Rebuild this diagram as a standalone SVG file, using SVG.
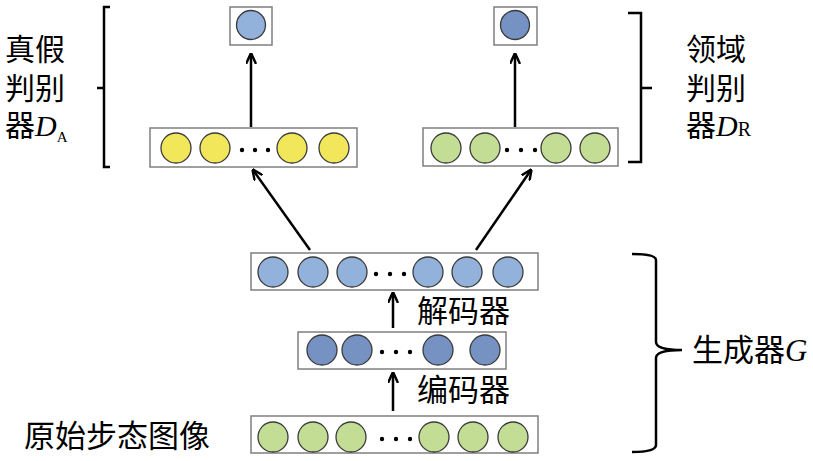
<svg xmlns="http://www.w3.org/2000/svg" width="813" height="461" viewBox="0 0 813 461">
<defs>
<marker id="ah" viewBox="0 0 10 10" refX="9" refY="5" markerWidth="11" markerHeight="11" markerUnits="userSpaceOnUse" orient="auto">
<path d="M0,0.5 L10,5 L0,9.5" fill="none" stroke="#000" stroke-width="2.2"/>
</marker>
</defs>
<style>
.box{fill:#fff;stroke:#7f7f7f;stroke-width:1.5}
.c{stroke:#3a3a3a;stroke-width:1.3}
.y{fill:#F2E65A}.g{fill:#C3DD94}.lb{fill:#92B2DC}.db{fill:#7692C2}
.dot{fill:#000}
.t{font-family:"Liberation Serif","Noto Sans CJK SC",serif;font-size:30px;fill:#000}
.it{font-style:italic}
.br{fill:none;stroke:#000;stroke-width:2.5}
.ar{stroke:#000;stroke-width:2.5;fill:none;marker-end:url(#ah)}
</style>
<rect width="813" height="461" fill="#fff"/>

<g id="outA">
<rect class="box" x="230" y="7" width="42" height="38"/>
<circle class="c lb" cx="251" cy="25" r="14.5"/>
</g>
<g id="outR">
<rect class="box" x="494" y="7" width="43" height="38"/>
<circle class="c db" cx="515" cy="25" r="14.5"/>
</g>

<g id="dA">
<rect class="box" x="150" y="128" width="207" height="39"/>
<circle class="c y" cx="176" cy="148" r="15"/>
<circle class="c y" cx="215" cy="148" r="15"/>
<circle class="dot" cx="242" cy="150" r="2.2"/>
<circle class="dot" cx="255" cy="150" r="2.2"/>
<circle class="dot" cx="268" cy="150" r="2.2"/>
<circle class="c y" cx="292" cy="148" r="15"/>
<circle class="c y" cx="334" cy="148" r="15"/>
</g>

<g id="dR">
<rect class="box" x="423" y="128" width="195" height="38"/>
<circle class="c g" cx="446" cy="148" r="15"/>
<circle class="c g" cx="485" cy="148" r="15"/>
<circle class="dot" cx="507" cy="150" r="2.2"/>
<circle class="dot" cx="521" cy="150" r="2.2"/>
<circle class="dot" cx="535" cy="150" r="2.2"/>
<circle class="c g" cx="556" cy="148" r="15"/>
<circle class="c g" cx="595" cy="148" r="15"/>
</g>

<g id="dec">
<rect class="box" x="251" y="253" width="287" height="37"/>
<circle class="c lb" cx="273" cy="272" r="15"/>
<circle class="c lb" cx="313" cy="272" r="15"/>
<circle class="c lb" cx="352" cy="272" r="15"/>
<circle class="dot" cx="376" cy="274" r="2.2"/>
<circle class="dot" cx="390" cy="274" r="2.2"/>
<circle class="dot" cx="404" cy="274" r="2.2"/>
<circle class="c lb" cx="428" cy="272" r="15"/>
<circle class="c lb" cx="467" cy="272" r="15"/>
<circle class="c lb" cx="508" cy="272" r="15"/>
</g>

<g id="enc">
<rect class="box" x="298" y="332" width="208" height="37"/>
<circle class="c db" cx="322" cy="350" r="15"/>
<circle class="c db" cx="357" cy="350" r="15"/>
<circle class="dot" cx="382" cy="352" r="2.2"/>
<circle class="dot" cx="396" cy="352" r="2.2"/>
<circle class="dot" cx="410" cy="352" r="2.2"/>
<circle class="c db" cx="438" cy="350" r="15"/>
<circle class="c db" cx="485" cy="350" r="15"/>
</g>

<g id="input">
<rect class="box" x="251" y="416" width="287" height="37"/>
<circle class="c g" cx="273" cy="437" r="15"/>
<circle class="c g" cx="313" cy="437" r="15"/>
<circle class="c g" cx="351" cy="437" r="15"/>
<circle class="dot" cx="382" cy="439" r="2.2"/>
<circle class="dot" cx="396" cy="439" r="2.2"/>
<circle class="dot" cx="410" cy="439" r="2.2"/>
<circle class="c g" cx="434" cy="437" r="15"/>
<circle class="c g" cx="473" cy="437" r="15"/>
<circle class="c g" cx="513" cy="437" r="15"/>
</g>

<g id="connectors">
<line class="ar" x1="251" y1="127" x2="251" y2="54"/>
<line class="ar" x1="515" y1="127" x2="515" y2="54"/>
<line class="ar" x1="310" y1="250" x2="253" y2="170"/>
<line class="ar" x1="476" y1="250" x2="531" y2="170"/>
<line class="ar" x1="393" y1="328" x2="393" y2="293"/>
<line class="ar" x1="393" y1="411" x2="393" y2="373"/>
</g>

<g id="bracketA">
<path class="br" d="M110,7 H104 V167 H110 M104,88 H97"/>
</g>
<g id="bracketR">
<path class="br" d="M628,13 H641 V162 H628 M641,88 H652"/>
</g>
<g id="bracketG">
<path class="br" d="M632,254 Q656,254 656,260 V342 Q656,350 682,350 Q656,350 656,358 V445 Q656,452 632,452"/>
</g>

<g id="labels">
<text class="t" x="5" y="60">真假</text>
<text class="t" x="5" y="99">判别</text>
<text class="t" x="5" y="136">器<tspan class="it">D</tspan><tspan style="font-size:15px" dy="6">A</tspan></text>
<text class="t" x="686" y="60">领域</text>
<text class="t" x="686" y="99">判别</text>
<text class="t" x="686" y="136">器<tspan class="it">D</tspan><tspan style="font-size:20px">R</tspan></text>
<text class="t" x="417" y="322" style="font-size:31px">解码器</text>
<text class="t" x="417" y="401" style="font-size:31px">编码器</text>
<text class="t" x="692" y="361" style="font-size:31px">生成器<tspan class="it">G</tspan></text>
<text class="t" x="24" y="447" style="font-size:31px">原始步态图像</text>
</g>
</svg>
